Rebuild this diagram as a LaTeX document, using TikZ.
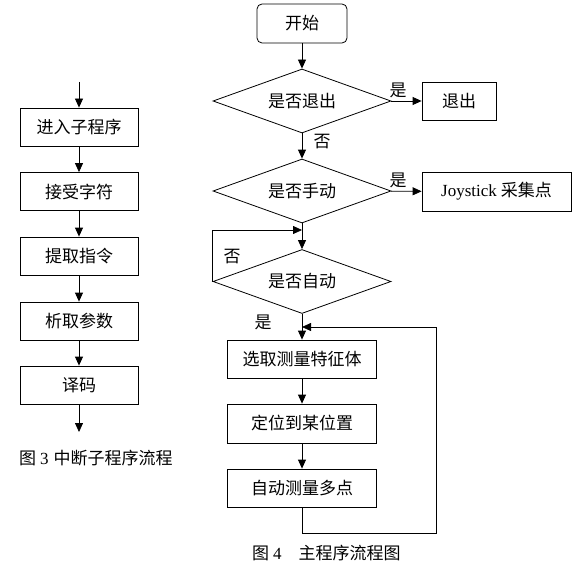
\documentclass[tikz,border=0pt]{standalone}
\usepackage{fontspec}
\setmainfont{Liberation Serif}
\newfontfamily\cjk{Noto Sans CJK SC}
\usetikzlibrary{shapes.geometric,arrows.meta}
\begin{document}
\begin{tikzpicture}[x=1pt,y=-1pt,
  every node/.style={font=\fontsize{17}{19}\selectfont\cjk},
  proc/.style={draw,line width=0.8pt,minimum height=38pt,inner sep=0pt},
  startbox/.style={draw,line width=0.8pt,rounded corners=5pt,minimum width=90pt,minimum height=39pt,inner sep=0pt},
  decide/.style={draw,line width=0.8pt,diamond,aspect=2.78,minimum width=178pt,minimum height=64pt,inner sep=0pt},
  lbl/.style={inner sep=0pt},
  flow/.style={line width=0.8pt,-{Triangle[length=9pt,width=8pt]}},
  plain/.style={line width=0.8pt}]
\useasboundingbox (0,0) rectangle (580,588);
% ---- left: interrupt subroutine ----
\coordinate (ltop) at (79,82);
\coordinate (lend) at (79,432);
\node[proc,minimum width=118pt] (l1) at (79,127) {进入子程序};
\node[proc,minimum width=118pt] (l2) at (79,191.5) {接受字符};
\node[proc,minimum width=118pt] (l3) at (79,256) {提取指令};
\node[proc,minimum width=118pt] (l4) at (79,321) {析取参数};
\node[proc,minimum width=118pt] (l5) at (79,385) {译码};
\draw[flow] (ltop) -- (l1);
\draw[flow] (l1) -- (l2);
\draw[flow] (l2) -- (l3);
\draw[flow] (l3) -- (l4);
\draw[flow] (l4) -- (l5);
\draw[flow] (l5) -- (lend);
\node[lbl,anchor=west] (cap3) at (19,458) {图\hspace{4pt}{\rmfamily 3}\hspace{5pt}中断子程序流程};
% ---- right: main program ----
\node[startbox] (start) at (302,23.5) {开始};
\node[decide] (d1) at (302,101) {是否退出};
\node[proc,minimum width=74pt] (exit) at (459,101) {退出};
\node[decide] (d2) at (302,191) {是否手动};
\node[proc,minimum width=149pt,minimum height=39pt] (joy) at (496.5,191.5) {{\rmfamily Joystick} 采集点};
\node[decide] (d3) at (302,281.5) {是否自动};
\node[proc,minimum width=149pt] (sel) at (302,359) {选取测量特征体};
\node[proc,minimum width=149pt,minimum height=39pt] (loc) at (302,423.5) {定位到某位置};
\node[proc,minimum width=149pt] (auto) at (302,488) {自动测量多点};
\coordinate (j1) at (302,230);
\coordinate (j2) at (302,327);
\coordinate (bl) at (302,533);
\coordinate (br) at (436,533);
\coordinate (tr) at (436,327);
\draw[flow] (start) -- (d1);
\draw[flow] (d1) -- (exit);
\draw[flow] (d1) -- (d2);
\draw[flow] (d2) -- (joy);
\draw[flow] (d2) -- (d3);
\draw[flow] (d3.west) |- (j1);
\draw[flow] (d3) -- (sel);
\draw[flow] (sel) -- (loc);
\draw[flow] (loc) -- (auto);
\draw[plain] (auto.south) -- (bl) -- (br) -- (tr);
\draw[flow] (tr) -- (j2);
\node[lbl] (y1) at (398,90) {是};
\node[lbl] (n1) at (322,142) {否};
\node[lbl] (y2) at (398,180) {是};
\node[lbl] (n3) at (232,257) {否};
\node[lbl] (y3) at (263,322) {是};
\node[lbl,anchor=west] (cap4) at (252,553) {图\hspace{4pt}{\rmfamily 4}\hspace{17pt}主程序流程图};
\end{tikzpicture}
\end{document}
